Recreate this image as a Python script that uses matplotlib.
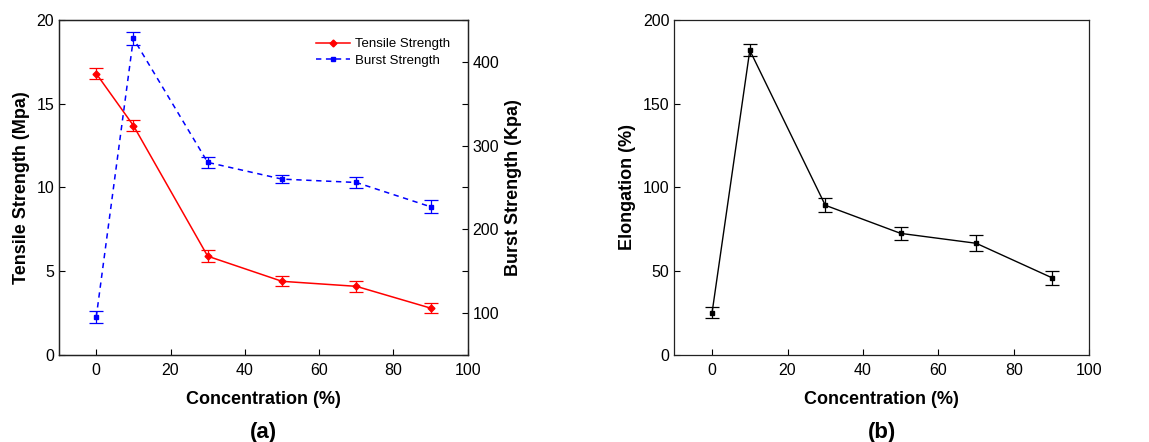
import matplotlib
matplotlib.use("Agg")
import matplotlib.pyplot as plt
from matplotlib.ticker import MultipleLocator
from matplotlib.lines import Line2D

plt.rcParams['font.family'] = ['Liberation Sans', 'DejaVu Sans']

concentration = [0, 10, 30, 50, 70, 90]
tensile = [16.8, 13.7, 5.9, 4.4, 4.1, 2.8]
tensile_err = [0.35, 0.35, 0.35, 0.3, 0.32, 0.32]
burst = [95, 428, 280, 260, 256, 227]
burst_err = [7, 8, 6.5, 5, 7, 8]
elongation = [25.3, 181.9, 89.4, 72.6, 66.7, 46.2]
elongation_err = [3.5, 3.7, 4.2, 3.7, 4.7, 4.2]

fig = plt.figure(figsize=(11.49, 4.42), dpi=100)

ax1 = fig.add_axes([0.0514, 0.1968, 0.3557, 0.758])
ax2 = ax1.twinx()
axb = fig.add_axes([0.5869, 0.1968, 0.3612, 0.758])

tick_fs = 11.5
lab_fs = 13
dash = (0, (3.5, 3))
cap = 5

ax1.errorbar(concentration, tensile, yerr=tensile_err, color='#ff0000', marker='D',
             markersize=3.5, linewidth=1.1, capsize=cap, elinewidth=0.9, capthick=0.9)
ax2.errorbar(concentration, burst, yerr=burst_err, color='#0000ff', marker='s',
             markersize=3.5, linewidth=1.1, linestyle=dash, capsize=cap,
             elinewidth=0.9, capthick=0.9)

ax1.set_xlim(-10, 100)
ax1.set_ylim(0, 20)
ax2.set_ylim(50, 450)
ax1.xaxis.set_major_locator(MultipleLocator(20))
ax1.yaxis.set_major_locator(MultipleLocator(5))
ax2.yaxis.set_major_locator(MultipleLocator(100))
ax2.yaxis.set_minor_locator(MultipleLocator(50))
ax1.tick_params(direction='in', labelsize=tick_fs, length=4, width=0.8, top=False, right=False)
ax1.tick_params(axis='x', pad=6)
ax2.tick_params(axis='y', which='major', direction='in', labelsize=tick_fs, length=4, width=0.8)
ax2.tick_params(axis='y', which='minor', direction='in', length=4, width=0.8)
ax1.set_xlabel('Concentration (%)', fontsize=lab_fs, fontweight='bold', labelpad=9)
ax1.set_ylabel('Tensile Strength (Mpa)', fontsize=lab_fs, fontweight='bold', labelpad=5)
ax2.set_ylabel('Burst Strength (Kpa)', fontsize=lab_fs, fontweight='bold', labelpad=4)
ax1.text(0.5, -0.232, '(a)', transform=ax1.transAxes, ha='center', va='center',
         fontsize=16, fontweight='bold')
h1 = Line2D([], [], color='#ff0000', marker='D', markersize=3.5, linewidth=1.1)
h2 = Line2D([], [], color='#0000ff', marker='s', markersize=3.5, linewidth=1.1, linestyle=dash)
ax1.legend(handles=[h1, h2], labels=['Tensile Strength', 'Burst Strength'],
           loc='upper right', frameon=False, fontsize=9.5,
           handlelength=2.6, borderaxespad=0.6, handletextpad=0.4, labelspacing=0.3,
           bbox_to_anchor=(0.99, 0.985))

axb.errorbar(concentration, elongation, yerr=elongation_err, color='black', marker='s',
             markersize=3.5, linewidth=1.0, capsize=cap, elinewidth=0.9, capthick=0.9)
axb.set_xlim(-10, 100)
axb.set_ylim(0, 200)
axb.xaxis.set_major_locator(MultipleLocator(20))
axb.yaxis.set_major_locator(MultipleLocator(50))
axb.tick_params(direction='in', labelsize=tick_fs, length=4, width=0.8)
axb.tick_params(axis='x', pad=6)
axb.set_xlabel('Concentration (%)', fontsize=lab_fs, fontweight='bold', labelpad=9)
axb.set_ylabel('Elongation (%)', fontsize=lab_fs, fontweight='bold', labelpad=5)
axb.text(0.5, -0.232, '(b)', transform=axb.transAxes, ha='center', va='center',
         fontsize=16, fontweight='bold')

for ax in (ax1, ax2, axb):
    for s in ax.spines.values():
        s.set_linewidth(0.9)
        s.set_color('#222222')

fig.savefig('out.png', dpi=100)
